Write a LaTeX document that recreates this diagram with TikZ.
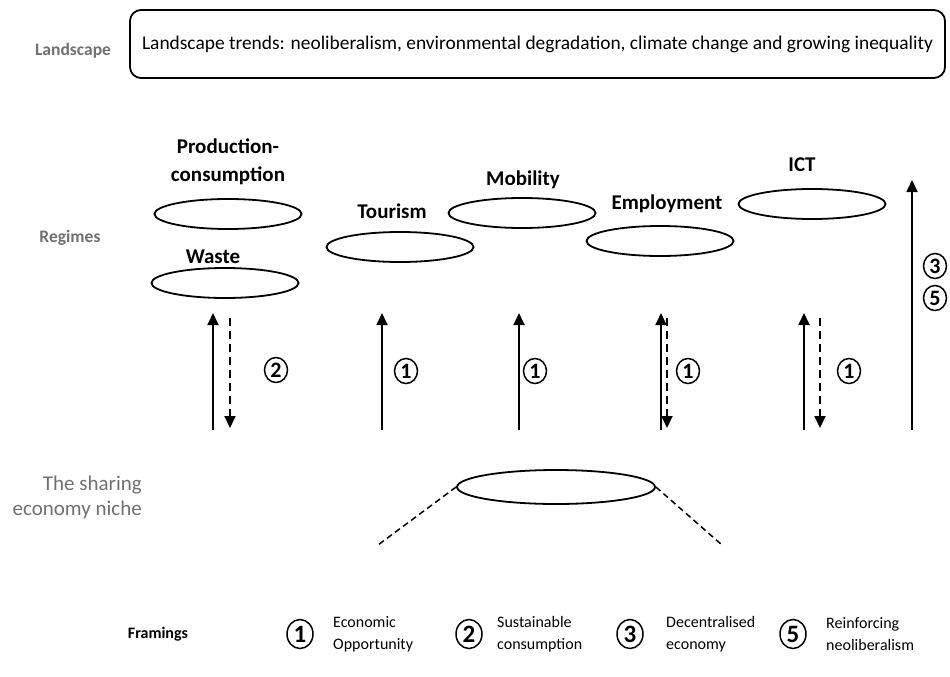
\documentclass[tikz,border=0pt]{standalone}
\usepackage{fontspec}
\setmainfont{Carlito}
\usetikzlibrary{positioning, shapes.geometric, arrows.meta}
\definecolor{levelgrey}{RGB}{112,112,112}

\begin{document}
\begin{tikzpicture}[x=1pt, y=-1pt, line width=1.8pt,
    regime/.style={draw, ellipse, minimum width=147pt, minimum height=30pt},
    rname/.style={font=\fontsize{21}{28}\selectfont\bfseries, align=center},
    level/.style={font=\fontsize{17.5}{25}\selectfont\bfseries, text=levelgrey},
    num/.style={draw, ellipse, line width=1.5pt, inner sep=0pt, minimum width=23pt, minimum height=25pt, font=\fontsize{22}{22}\selectfont\bfseries},
    keynum/.style={num, minimum width=26pt, minimum height=29pt, font=\fontsize{25}{25}\selectfont\bfseries},
    keytext/.style={right, align=left, font=\fontsize{16}{22}\selectfont},
    up/.style={-{Triangle[length=12pt,width=11pt]}},
    down/.style={dash pattern=on 8pt off 5pt, -{Triangle[length=12pt,width=11pt]}}]
    \useasboundingbox (0,0) rectangle (950,677);

    % levels
    \node[level] (landscape) at (73,51) {Landscape};
    \node[level] (regimes) at (70,238) {Regimes};
    \node[level, font=\fontsize{21}{25}\selectfont, align=right, left] (nichelabel) at (146,497) {The sharing\\economy niche};

    % landscape trends
    \node[draw, rounded corners=11pt, minimum width=815pt, minimum height=68pt, font=\fontsize{19.4}{22}\selectfont] (trends) at (537.5,44)
        {Landscape trends: neoliberalism, environmental degradation, climate change and growing inequality};

    % regimes
    \node[rname] (prodname) at (228,162) {Production-\\consumption};
    \node[regime] (prod) at (228,214) {};
    \node[rname] (wastename) at (213,257) {Waste};
    \node[regime] (waste) at (225,283) {};
    \node[rname] (tourname) at (392,211) {Tourism};
    \node[regime] (tour) at (400,247) {};
    \node[rname] (mobname) at (523,180) {Mobility};
    \node[regime] (mob) at (522,213) {};
    \node[rname] (empname) at (667,204) {Employment};
    \node[regime] (emp) at (660,241) {};
    \node[rname] (ictname) at (802,165) {ICT};
    \node[regime] (ict) at (812,204) {};

    % niche
    \node[regime, minimum width=198pt, minimum height=34pt] (niche) at (556,487) {};
    \coordinate (nicheL) at (378,545);
    \coordinate (nicheR) at (722,545);
    \draw[dash pattern=on 6pt off 4pt, line width=1.5pt] (niche.west) -- (nicheL);
    \draw[dash pattern=on 6pt off 4pt, line width=1.5pt] (niche.east) -- (nicheR);

    % influence of the niche on the regimes
    \foreach \x/\n in {213/a, 382/b, 519/c, 661/d, 804/e} {
        \coordinate (up\n) at (\x,313);
        \coordinate (bot\n) at (\x,430);
        \draw[up] (bot\n) -- (up\n);
    }
    \foreach \x/\n in {230/a, 667/d, 820/e} {
        \coordinate (dtop\n) at (\x,318);
        \coordinate (dbot\n) at (\x,428);
        \draw[down] (dtop\n) -- (dbot\n);
    }
    \coordinate (bigbot) at (912,430);
    \coordinate (bigtop) at (912,180);
    \draw[up] (bigbot) -- (bigtop);

    \node[num] (fa) at (276,370) {2};
    \node[num] (fb) at (406,371) {1};
    \node[num] (fc) at (535,371) {1};
    \node[num] (fd) at (688,371) {1};
    \node[num] (fe) at (849,371) {1};
    \node[num] (ff) at (935,266) {3};
    \node[num] (fg) at (935,298) {5};

    % framings key
    \node[font=\fontsize{16}{16}\selectfont\bfseries] (framings) at (158,634) {Framings};
    \node[keynum] (k1) at (300,634) {1};
    \node[keytext] (k1text) at (329,634) {Economic\\Opportunity};
    \node[keynum] (k2) at (469,634) {2};
    \node[keytext] (k2text) at (493,634) {Sustainable\\consumption};
    \node[keynum] (k3) at (630,634) {3};
    \node[keytext] (k3text) at (662,634) {Decentralised\\economy};
    \node[keynum] (k5) at (793,634) {5};
    \node[keytext] (k5text) at (822,634) {Reinforcing\\neoliberalism};
\end{tikzpicture}
\end{document}
